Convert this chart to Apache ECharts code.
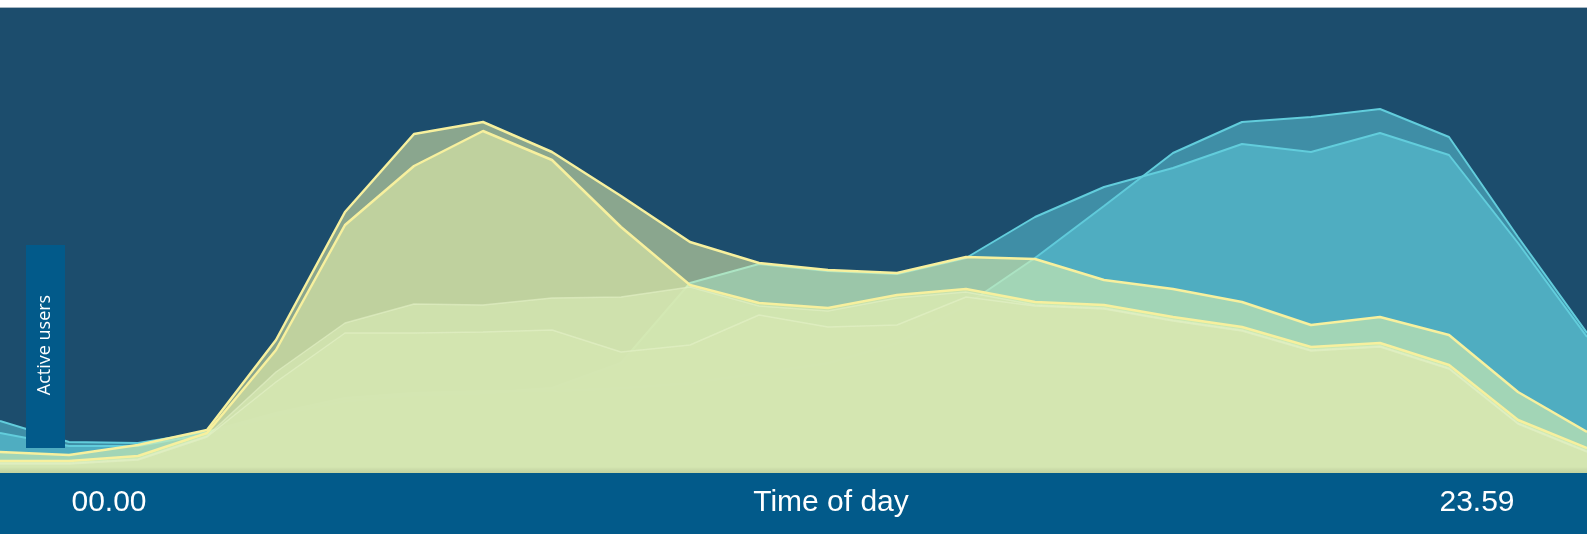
<!DOCTYPE html>
<html lang="en">
<head>
    <meta charset="UTF-8">
    <title>Active users by time of day</title>
    <script src="https://cdn.jsdelivr.net/npm/echarts@6/dist/echarts.min.js"></script>
    <style>
        html, body { margin: 0; padding: 0; background: #fff; }
    </style>
</head>
<body>
<div id="chart" style="width: 1587px;height:534px;"></div>

<script>
    // one point per hour, 00 .. 23
    var hours = ['00','01','02','03','04','05','06','07','08','09','10','11',
                 '12','13','14','15','16','17','18','19','20','21','22','23'];
    var edgeLabels = ['00.00', '23.59'];
    var axisName = 'Time of day';
    var yName = 'Active users';

    // cyan days (evening peak)
    var cyanTop = [52,31,30,41,60,75,80,82,82,85,90,100,110,130,168,215,267,320,351,356,364,336,236,140];
    var cyanLow = [40,27,27,39,58,72,78,80,85,110,190,209,202,199,215,256,286,305,329,321,340,318,230,136];
    // yellow days (morning peak)
    var yellowTop = [21,18,28,43,133,261,339,351,321,277,231,210,203,200,216,214,193,184,171,148,156,138,81,41];
    var yellowLow = [12,12,17,40,123,248,307,342,313,246,188,170,165,178,184,171,168,156,146,126,130,108,53,25];
    // pale days
    var paleTop = [10,10,14,37,101,150,169,168,175,176,186,167,162,175,181,168,165,153,143,123,127,105,50,22];
    var paleLow = [9,9,13,36,91,140,140,141,143,121,128,158,146,148,176,167,164,152,142,122,126,104,49,21];

    var myChart = echarts.init(document.getElementById('chart'));

    // each series gets its own z so later ones really cover earlier ones
    function area(name, data, line, fill, width, z) {
        return {
            name: name,
            type: 'line',
            z: z,
            data: data,
            symbol: 'none',
            smooth: false,
            lineStyle: { color: line, width: width },
            areaStyle: { color: fill, opacity: 1 }
        };
    }

    myChart.setOption({
        animation: false,
        backgroundColor: '#ffffff',
        grid: {
            left: 0, right: 0, top: 8, bottom: 61,
            show: true,
            backgroundColor: '#1c4d6d',
            borderWidth: 0
        },
        xAxis: {
            type: 'category',
            boundaryGap: false,
            data: hours,
            show: false
        },
        yAxis: {
            type: 'value',
            min: 0,
            max: 465,
            show: false
        },
        series: [
            area('cyan 1', cyanTop, '#62cddc', 'rgba(94,200,217,0.53)', 2, 2),
            area('cyan 2', cyanLow, '#62cddc', 'rgba(94,200,217,0.53)', 2, 3),
            area('yellow 1', yellowTop, '#f7f09e', 'rgba(240,250,172,0.52)', 2.5, 4),
            area('yellow 2', yellowLow, '#f7f09e', 'rgba(240,250,172,0.52)', 2.5, 5),
            area('pale 1', paleTop, 'rgba(228,241,200,0.6)', 'rgba(212,230,178,0.75)', 1.5, 6),
            area('pale 2', paleLow, 'rgba(228,241,200,0.6)', 'rgba(212,230,178,0.75)', 1.5, 7)
        ],
        graphic: [
            // thin rule over the top of the plot
            { type: 'rect', shape: { x: 0, y: 7, width: 1587, height: 1 }, style: { fill: '#a7b7c3' }, z: 100 },
            // soft shadow above the bottom band
            {
                type: 'rect', shape: { x: 0, y: 467, width: 1587, height: 6 }, z: 100,
                style: {
                    fill: new echarts.graphic.LinearGradient(0, 0, 0, 1, [
                        { offset: 0, color: 'rgba(0,0,0,0)' },
                        { offset: 1, color: 'rgba(60,70,30,0.12)' }
                    ])
                }
            },
            { type: 'rect', shape: { x: 0, y: 473, width: 1587, height: 61 }, style: { fill: '#025a8a' }, z: 100 },
            {
                type: 'text', x: 109, y: 503, z: 101,
                style: { text: edgeLabels[0], fill: '#fff', font: '30px "Liberation Sans", Arial', align: 'center', verticalAlign: 'middle' }
            },
            {
                type: 'text', x: 831, y: 503, z: 101,
                style: { text: axisName, fill: '#fff', font: '30px "Liberation Sans", Arial', align: 'center', verticalAlign: 'middle' }
            },
            {
                type: 'text', x: 1477, y: 503, z: 101,
                style: { text: edgeLabels[1], fill: '#fff', font: '30px "Liberation Sans", Arial', align: 'center', verticalAlign: 'middle' }
            },
            // y axis name in its own box
            { type: 'rect', shape: { x: 26, y: 245, width: 39, height: 203 }, style: { fill: '#025a8a' }, z: 100 },
            {
                type: 'text', x: 45, y: 345, rotation: Math.PI / 2, z: 101,
                style: { text: yName, fill: '#fff', font: '18px "Open Sans"', align: 'center', verticalAlign: 'middle' }
            }
        ]
    });
</script>
</body>
</html>
